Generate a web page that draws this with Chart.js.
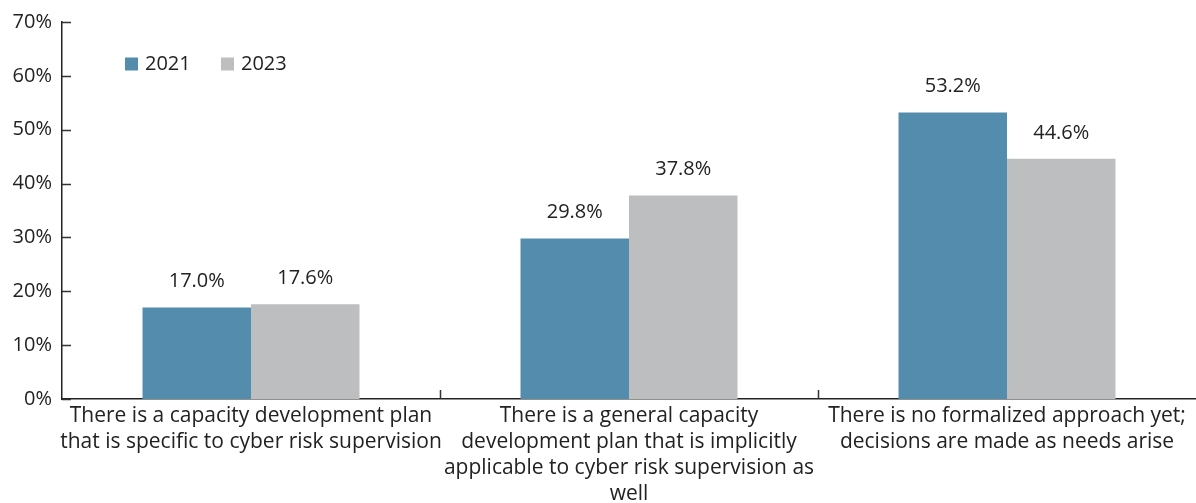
<!DOCTYPE html>
<html>
<head>
<meta charset="utf-8">
<script src="https://cdn.jsdelivr.net/npm/chart.js@4.4.1/dist/chart.umd.min.js"></script>
<style>
  html, body { margin: 0; padding: 0; background: #fff; }
  #wrap { width: 1196px; height: 503px; }
</style>
</head>
<body>
<div id="wrap"><canvas id="chart"></canvas></div>
<script>
const categories = [
  ['There is a capacity development plan', 'that is specific to cyber risk supervision'],
  ['There is a general capacity', 'development plan that is implicitly', 'applicable to cyber risk supervision as', 'well'],
  ['There is no formalized approach yet;', 'decisions are made as needs arise']
];
const values2021 = [17.0, 29.8, 53.2];
const values2023 = [17.6, 37.8, 44.6];
const yTicks = [0, 10, 20, 30, 40, 50, 60, 70];

const FONT = '"Open Sans", "Noto Sans", sans-serif';
const TEXT = '#222222';

// value labels above each bar
const valueLabels = {
  id: 'valueLabels',
  afterDatasetsDraw(chart) {
    const ctx = chart.ctx;
    ctx.save();
    ctx.font = '20px ' + FONT;
    ctx.fillStyle = TEXT;
    ctx.textAlign = 'center';
    ctx.textBaseline = 'middle';
    chart.data.datasets.forEach((ds, i) => {
      chart.getDatasetMeta(i).data.forEach((bar, j) => {
        ctx.fillText(ds.data[j].toFixed(1) + '%', bar.x, bar.y - 26);
      });
    });
    ctx.restore();
  }
};

// small inward tick marks on both axes
const axisTicks = {
  id: 'axisTicks',
  afterDraw(chart) {
    const { ctx, chartArea, scales } = chart;
    ctx.save();
    ctx.strokeStyle = '#333';
    ctx.lineWidth = 1.5;
    ctx.beginPath();
    yTicks.forEach((v) => {
      const y = Math.round(scales.y.getPixelForValue(v)) + 0.5;
      ctx.moveTo(chartArea.left, y);
      ctx.lineTo(chartArea.left + 9, y);
    });
    const step = (chartArea.right - chartArea.left) / categories.length;
    for (let i = 1; i < categories.length; i++) {
      const x = Math.round(chartArea.left + step * i) + 0.5;
      ctx.moveTo(x, chartArea.bottom);
      ctx.lineTo(x, chartArea.bottom - 9);
    }
    ctx.stroke();
    ctx.restore();
  }
};

// legend drawn inside the plot area
const innerLegend = {
  id: 'innerLegend',
  afterDraw(chart) {
    const { ctx, chartArea } = chart;
    ctx.save();
    ctx.font = '20px ' + FONT;
    ctx.textBaseline = 'middle';
    let x = chartArea.left + 63;
    const y = chartArea.top + 42;
    chart.data.datasets.forEach((ds) => {
      ctx.fillStyle = ds.backgroundColor;
      ctx.fillRect(x, y - 6.5, 13, 13);
      ctx.fillStyle = TEXT;
      ctx.fillText(ds.label, x + 20, y);
      x += 96;
    });
    ctx.restore();
  }
};

new Chart(document.getElementById('chart'), {
  type: 'bar',
  data: {
    labels: categories,
    datasets: [
      { label: '2021', data: values2021, backgroundColor: '#548cae' },
      { label: '2023', data: values2023, backgroundColor: '#bdbec0' }
    ]
  },
  options: {
    responsive: true,
    maintainAspectRatio: false,
    animation: false,
    layout: { padding: { top: 10, right: 0, left: 0, bottom: 0 } },
    datasets: { bar: { categoryPercentage: 0.574, barPercentage: 1.0 } },
    plugins: {
      legend: { display: false },
      tooltip: { enabled: false }
    },
    scales: {
      x: {
        grid: { display: false, drawTicks: false },
        border: { display: true, color: '#222', width: 1.5 },
        ticks: {
          color: TEXT,
          font: { family: FONT, size: 21, lineHeight: 1.24 },
          padding: 4,
          maxRotation: 0,
          autoSkip: false
        },
        afterFit(scale) { scale.height = 104; }
      },
      y: {
        min: 0,
        max: 70,
        grid: { display: false, drawTicks: false },
        border: { display: true, color: '#222', width: 1.5 },
        ticks: {
          stepSize: 10,
          color: TEXT,
          font: { family: FONT, size: 20 },
          padding: 10,
          callback: (v) => v + '%'
        },
        afterFit(scale) { scale.width = 62; }
      }
    }
  },
  plugins: [valueLabels, axisTicks, innerLegend]
});
</script>
</body>
</html>
